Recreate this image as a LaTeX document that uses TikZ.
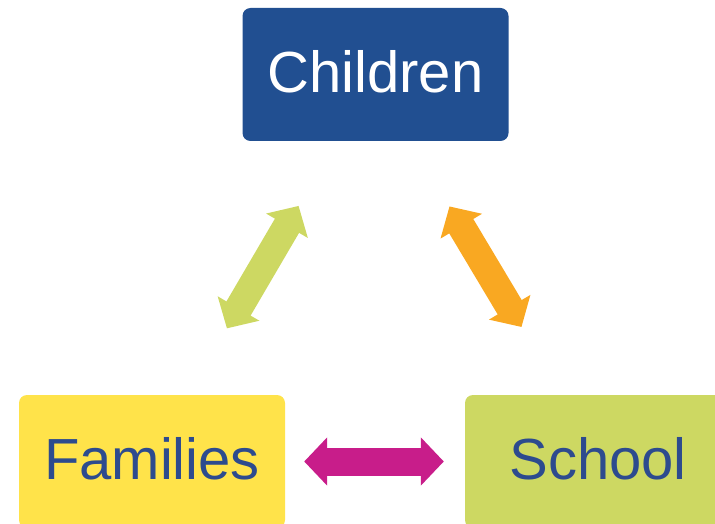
\documentclass[tikz,border=0pt]{standalone}
\usepackage{fontspec}
\setmainfont{Liberation Sans}
\usetikzlibrary{arrows.meta}
\definecolor{kidblue}{HTML}{214F91}
\definecolor{famyellow}{HTML}{FFE34A}
\definecolor{schgreen}{HTML}{CDD862}
\definecolor{txtblue}{HTML}{2D4B8E}
\definecolor{linkorange}{HTML}{F9A822}
\definecolor{linkmagenta}{HTML}{C81D8A}

\begin{document}
\begin{tikzpicture}[x=1pt,y=-1pt,
    box/.style={rounded corners=8pt,minimum width=266pt,minimum height=133pt,inner sep=0pt,
      text height=42pt,text depth=6pt,font=\fontsize{58}{60}\selectfont},
    link/.style={line width=28pt,{Triangle[width=47pt,length=23pt]}-{Triangle[width=47pt,length=23pt]}}]
  \useasboundingbox (0,0) rectangle (715,524);
  \node[box,fill=kidblue,text=white] (kids) at (375.5,74.5) {Children};
  \node[box,fill=famyellow,text=txtblue] (fam) at (152,461.5) {Families};
  \node[box,fill=schgreen,text=txtblue] (sch) at (598,461.5) {School};
  \draw[link,schgreen,shorten <=77pt,shorten >=75pt] ([xshift=36pt]fam.north) -- ([xshift=-39pt]kids.south);
  \draw[link,linkorange,shorten <=76pt,shorten >=79pt] ([xshift=35pt]kids.south) -- ([xshift=-36pt]sch.north);
  \draw[link,linkmagenta,shorten <=19pt,shorten >=21pt] (fam) -- (sch);
\end{tikzpicture}
\end{document}
